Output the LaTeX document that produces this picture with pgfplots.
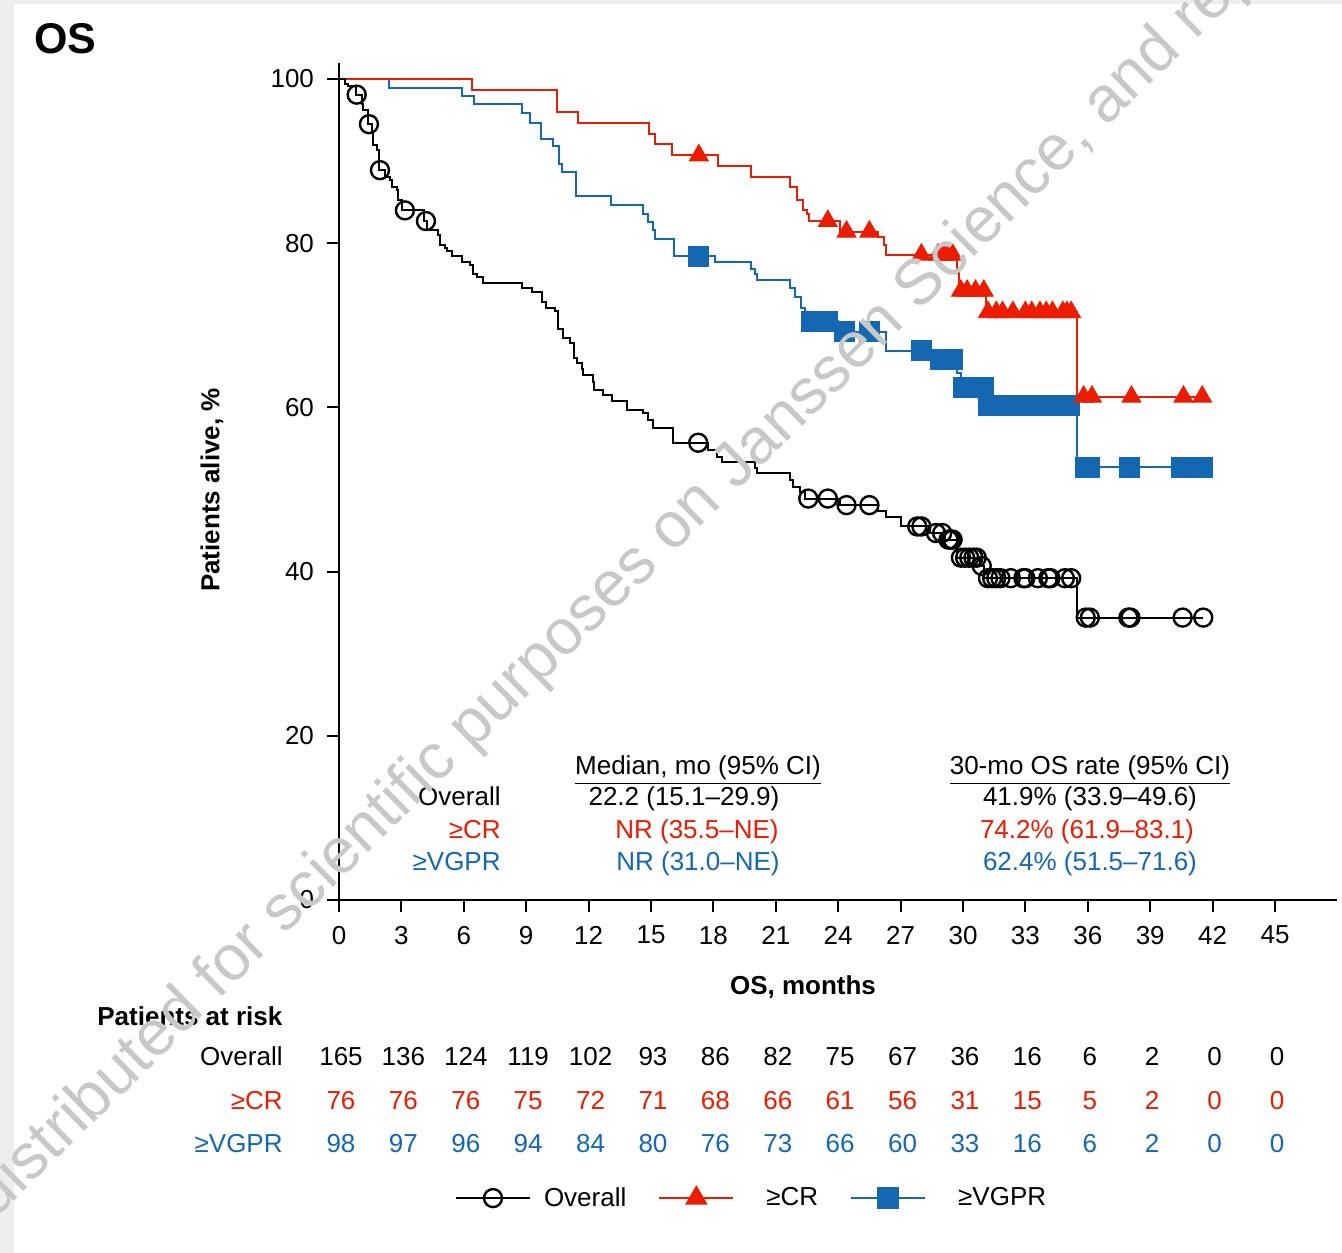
\documentclass[border=0pt]{standalone}
\usepackage{pgfplots}
\pgfplotsset{compat=1.18}
\usepackage{fontspec}
\setmainfont{Liberation Sans}
\definecolor{kmred}{RGB}{235,28,0}
\definecolor{kmblue}{RGB}{20,104,178}
\definecolor{wmgray}{RGB}{200,200,200}
\definecolor{framegray}{RGB}{238,238,236}
\newcommand\fs{\fontsize{13bp}{15.6bp}\selectfont}
\begin{document}
\begin{tikzpicture}
\useasboundingbox (0bp,0bp) rectangle (671bp,-626.5bp);
\fill[framegray] (0bp,0bp) rectangle (671bp,-626.5bp);
\fill[white] (7bp,-2bp) rectangle (671bp,-626.5bp);
\begin{axis}[
  at={(169.5bp,-450bp)}, anchor=south west,
  scale only axis, width=499.2bp, height=418.7bp,
  xmin=0, xmax=48, ymin=0, ymax=102,
  axis x line*=bottom, axis y line*=left,
  axis line style={line width=1bp,-},
  xtick={0,3,...,45}, ytick={0,20,...,100},
  tick align=outside, major tick length=6bp,
  tick style={black, line width=1bp},
  ticklabel style={font=\fs},
  xticklabel style={yshift=-3.5bp},
  yticklabel style={xshift=-3bp},
  /pgf/number format/assume math mode=true,
  clip=false,
  legend columns=3,
  legend style={at={(0.1162,-0.3559)}, anchor=west, draw=none, fill=none,
    inner sep=0pt, outer sep=0pt, font=\fs, nodes={inner sep=0pt, anchor=west},
    /tikz/every odd column/.append style={column sep=6.5bp},
    /tikz/every even column/.append style={column sep=16bp}},
  legend cell align=left,
  legend image code/.code={\draw[mark repeat=2, mark phase=2, #1] plot coordinates {(0bp,0bp) (18.5bp,0bp) (37bp,0bp)};},
]
% ---------- >=VGPR ----------
\addplot[kmblue, line width=1bp, const plot, forget plot] coordinates {
(0,100) (2.4,98.9) (5.9,97.9) (6.5,96.9) (8.8,95.9) (9.2,94.7) (9.7,92.7)
(10.3,91.8) (10.6,89.7) (10.7,88.7) (11.4,85.7) (13.1,84.7) (14.6,83.6)
(14.85,82.6) (15.1,81.6) (15.2,80.5) (16.1,78.4) (18.1,77.7) (19.8,76.9)
(20.0,76.3) (20.1,75.5) (21.7,74.5) (21.9,73.5) (22.2,72.1) (22.4,70.5)
(24.0,69.2) (26.3,66.9) (28.5,65.8) (29.7,64.2) (29.9,62.4) (31.1,60.3)
(35.5,52.7) (41.5,52.7)};
\addplot[only marks, mark=square*, mark size=5bp, kmblue, forget plot] coordinates {
(17.3,78.4) (22.7,70.5) (23.1,70.5) (23.5,70.5) (24.3,69.2) (25.5,69.2)
(28.0,66.9) (28.9,65.8) (29.2,65.8) (29.5,65.8) (30.0,62.4) (30.5,62.4) (31.0,62.4)
(31.2,60.3) (31.6,60.3) (32.0,60.3) (32.5,60.3) (33.0,60.3) (33.4,60.3) (33.8,60.3)
(34.2,60.3) (34.6,60.3) (35.1,60.3)
(35.9,52.7) (36.1,52.7) (38.0,52.7) (40.5,52.7) (41.5,52.7)};
% ---------- >=CR ----------
\addplot[kmred, line width=1bp, const plot, forget plot] coordinates {
(0,100) (6.4,98.7) (10.5,96.0) (11.5,94.7) (14.9,93.3) (15.2,92.1) (16.0,90.7)
(18.2,89.4) (19.8,88.1) (21.7,86.8) (22.0,85.3) (22.3,84.0) (22.5,83.5) (22.6,82.7)
(24.1,81.4) (25.9,80.8) (26.2,79.8) (26.3,78.6) (29.7,76.4) (29.8,74.2)
(31.1,71.6) (35.5,61.3) (41.5,61.3)};
\addplot[only marks, mark=triangle*, mark size=5.5bp, kmred, forget plot] coordinates {
(17.3,90.7) (23.5,82.7) (24.4,81.4) (25.5,81.4)
(28.0,78.6) (28.8,78.6) (29.05,78.6) (29.3,78.6) (29.5,78.6)
(29.9,74.2) (30.2,74.2) (30.6,74.2) (31.0,74.2)
(31.2,71.6) (31.6,71.6) (31.9,71.6) (32.4,71.6) (33.0,71.6) (33.3,71.6) (33.7,71.6)
(34.0,71.6) (34.3,71.6) (34.8,71.6) (35.0,71.6) (35.2,71.6)
(35.8,61.3) (36.2,61.3) (38.1,61.3) (40.6,61.3) (41.5,61.3)};
% ---------- Overall ----------
\addplot[black, line width=1bp, const plot, forget plot] coordinates {
(0,100) (0.29,99.4) (0.45,99.1) (0.8,98.1) (1.09,97.0) (1.17,96.2) (1.40,94.5)
(1.57,93.4) (1.65,92.0) (1.81,91.4) (1.93,88.9) (2.21,88.1) (2.45,87.7)
(2.53,86.9) (2.77,86.5) (2.85,85.3) (3.05,84.0) (4.1,82.7) (4.22,81.6)
(4.78,81.0) (4.86,79.8) (5.1,79.4) (5.18,79.0) (5.45,78.4) (5.9,77.7) (6.3,77.3)
(6.46,76.3) (6.62,75.9) (6.94,75.2) (8.78,74.5) (9.26,74.1) (9.74,72.9)
(9.95,72.1) (10.38,71.7) (10.51,69.5) (10.75,68.4) (11.1,67.8) (11.3,66.0)
(11.46,65.4) (11.67,64.7) (11.75,63.9) (12.2,63.1) (12.27,62.1) (12.7,61.5)
(13.14,60.8) (13.83,59.7) (14.63,59.3) (14.85,58.5) (15.1,57.5) (16.07,55.7)
(17.76,54.8) (18.16,54.0) (18.4,53.3) (20.0,52.6) (20.08,52.0) (21.68,51.2)
(21.84,50.3) (22.16,49.7) (22.4,48.9) (24.1,48.1) (25.9,47.4) (26.3,46.6)
(27.0,45.5) (28.4,44.7) (29.15,43.9) (29.7,41.7) (30.8,40.7) (31.0,39.2)
(35.5,34.4) (41.55,34.4)};
\addplot[only marks, mark=o, mark size=4.5bp, black, mark options={line width=1.2bp}, forget plot] coordinates {
(0.85,98.1) (1.44,94.5) (1.97,88.9) (3.17,84.0) (4.18,82.7) (17.27,55.7)
(22.56,48.9) (23.5,48.9) (24.4,48.1) (25.5,48.1)
(27.8,45.5) (28.0,45.5) (28.7,44.7) (29.0,44.7) (29.3,43.9) (29.4,43.9) (29.5,43.9)
(29.9,41.7) (30.1,41.7) (30.3,41.7) (30.5,41.7) (30.66,41.7) (30.9,40.7)
(31.2,39.2) (31.4,39.2) (31.6,39.2) (31.8,39.2) (32.3,39.2) (32.9,39.2) (33.0,39.2)
(33.6,39.2) (34.1,39.2) (34.2,39.2) (34.9,39.2) (35.2,39.2)
(35.9,34.4) (36.1,34.4) (37.95,34.4) (38.05,34.4) (40.56,34.4) (41.55,34.4)};
% ---------- legend ----------
\addlegendimage{black, line width=1bp, mark=o, mark size=4.5bp, mark options={line width=1.2bp}}
\addlegendentry{Overall}
\addlegendimage{kmred, line width=1bp, mark=triangle*, mark size=5.5bp}
\addlegendentry{\hspace{9.5bp}≥CR\hspace{8.5bp}}
\addlegendimage{kmblue, line width=1bp, mark=square*, mark size=5bp}
\addlegendentry{\hspace{9.5bp}≥VGPR}
\end{axis}
\begin{scope}[x=0.5bp,y=-0.5bp, every node/.style={font=\fs, inner sep=0pt}]
\node[anchor=base west, font=\fontsize{21.5bp}{26bp}\selectfont\bfseries] at (34,53) {OS};
\node[rotate=90, font=\fs\bfseries] at (212,490) {Patients alive, \%};
\node[anchor=base, font=\fs\bfseries] at (803,995) {OS, months};
% stats box
\node[anchor=base] at (698,775) {\underline{Median, mo (95\% CI)}};
\node[anchor=base] at (1090,775) {\underline{30-mo OS rate (95\% CI)}};
\node[anchor=base east] at (501,806) {Overall};
\node[anchor=base east, text=kmred] at (501,839) {≥CR};
\node[anchor=base east, text=kmblue] at (501,871) {≥VGPR};
\node[anchor=base] at (684,806) {22.2 (15.1–29.9)};
\node[anchor=base, text=kmred] at (697,839) {NR (35.5–NE)};
\node[anchor=base, text=kmblue] at (698,871) {NR (31.0–NE)};
\node[anchor=base] at (1090,806) {41.9\% (33.9–49.6)};
\node[anchor=base, text=kmred] at (1087,839) {74.2\% (61.9–83.1)};
\node[anchor=base, text=kmblue] at (1090,871) {62.4\% (51.5–71.6)};
% risk table
\node[anchor=base west, font=\fs\bfseries] at (97,1026) {Patients at risk};
\node[anchor=base east] at (283,1066) {Overall};
\node[anchor=base east, text=kmred] at (283,1110) {≥CR};
\node[anchor=base east, text=kmblue] at (283,1153) {≥VGPR};
\foreach \v [count=\i from 0] in {165,136,124,119,102,93,86,82,75,67,36,16,6,2,0,0}
  \node[anchor=base] at ({341+62.4*\i},1066) {\v};
\foreach \v [count=\i from 0] in {76,76,76,75,72,71,68,66,61,56,31,15,5,2,0,0}
  \node[anchor=base, text=kmred] at ({341+62.4*\i},1110) {\v};
\foreach \v [count=\i from 0] in {98,97,96,94,84,80,76,73,66,60,33,16,6,2,0,0}
  \node[anchor=base, text=kmblue] at ({341+62.4*\i},1153) {\v};
% watermark
\node[anchor=base west, rotate=44.5, text=wmgray, font=\fontsize{32bp}{38bp}\selectfont] at (-5,1220) {distributed for scientific purposes on Janssen Science, and reproduction};
\end{scope}
\end{tikzpicture}
\end{document}
